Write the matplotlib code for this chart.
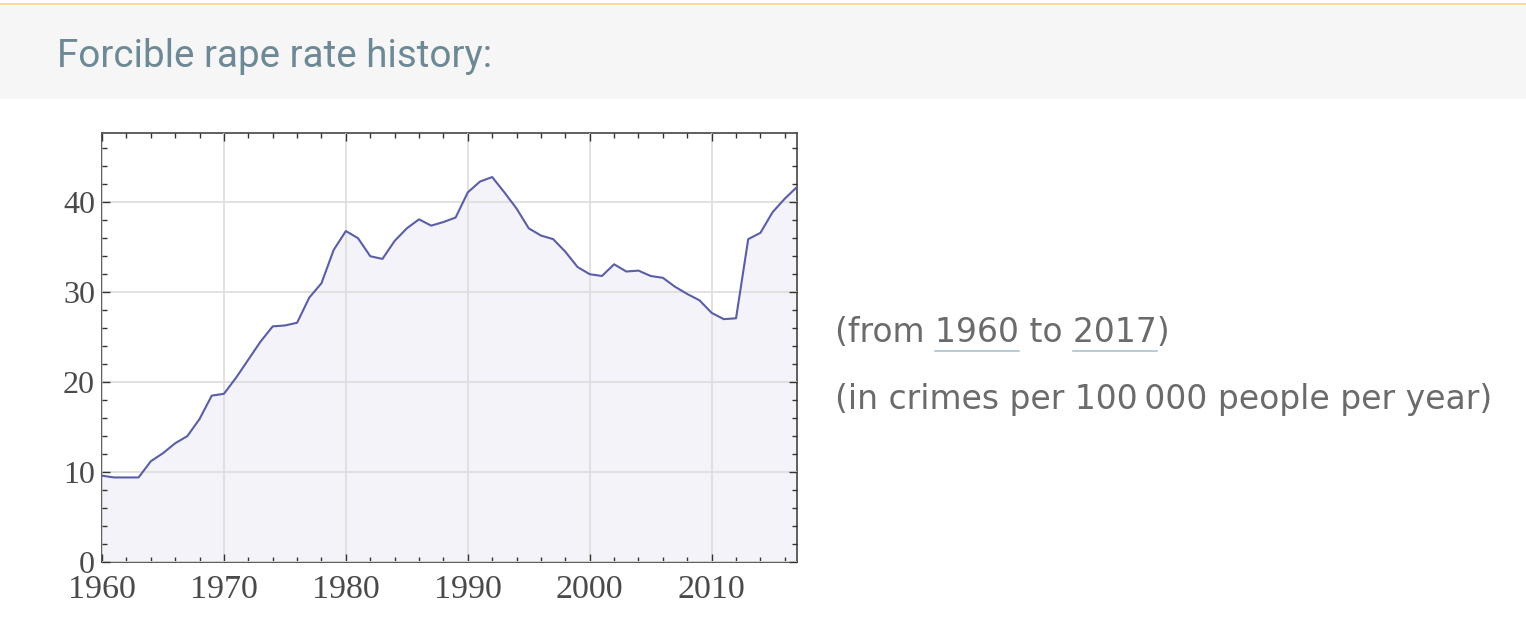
import matplotlib
matplotlib.use("Agg")
import matplotlib.pyplot as plt
from matplotlib.patches import Rectangle
from matplotlib.lines import Line2D
from matplotlib.ticker import MultipleLocator

# dati: tasso di stupri (crimini per 100 000 persone per anno)
years = list(range(1960, 2018))
rate = [9.6, 9.4, 9.4, 9.4, 11.2, 12.1, 13.2, 14.0, 15.9, 18.5,
        18.7, 20.5, 22.5, 24.5, 26.2, 26.3, 26.6, 29.4, 31.0, 34.7,
        36.8, 36.0, 34.0, 33.7, 35.7, 37.1, 38.1, 37.4, 37.8, 38.3,
        41.1, 42.3, 42.8, 41.1, 39.3, 37.1, 36.3, 35.9, 34.5, 32.8,
        32.0, 31.8, 33.1, 32.3, 32.4, 31.8, 31.6, 30.6, 29.8, 29.1,
        27.7, 27.0, 27.1, 35.9, 36.6, 38.9, 40.4, 41.7]

title = "Forcible rape rate history:"
year_from = "1960"
year_to = "2017"
unit_text = "(in crimes per 100\u2009000 people per year)"

W, H = 1526, 624
fig = plt.figure(figsize=(W / 100, H / 100), dpi=100)
fig.patch.set_facecolor("white")

# fascia grigia del titolo + linea arancione in alto
fig.patches.append(Rectangle((0, 1 - 99 / H), 1, 93 / H, transform=fig.transFigure,
                             facecolor="#f6f6f6", edgecolor="none", zorder=0))
fig.lines.append(Line2D([0, 1], [1 - 3.5 / H, 1 - 3.5 / H], transform=fig.transFigure,
                        color="#fcd89e", linewidth=1.5))
fig.text(57 / W, 1 - 67 / H, title, fontsize=27.8, family="Roboto", color="#6d8995",
         va="baseline", ha="left")

# grafico
ax = fig.add_axes([102 / W, 1 - 562 / H, 695 / W, 429 / H])
ax.fill_between(years, rate, 0, color="#f3f3f9", zorder=1)
ax.plot(years, rate, color="#5a5ea6", linewidth=1.5, zorder=3)
ax.set_xlim(1960, 2017)
ax.set_ylim(0, 47.7)
ax.xaxis.set_major_locator(MultipleLocator(10))
ax.xaxis.set_minor_locator(MultipleLocator(2))
ax.yaxis.set_major_locator(MultipleLocator(10))
ax.yaxis.set_minor_locator(MultipleLocator(2))
ax.grid(True, which="major", color="#dedede", linewidth=1.3, zorder=2)
ax.set_axisbelow(False)
ax.tick_params(which="both", direction="in", top=True, right=True, color="#333333",
               width=1.0, labelcolor="#4a4a4a")
ax.tick_params(which="major", length=6)
ax.tick_params(which="minor", length=3.5)
ax.tick_params(axis="x", pad=9, labelsize=24.5)
ax.tick_params(axis="y", pad=5, labelsize=23)
for lab in ax.get_xticklabels() + ax.get_yticklabels():
    lab.set_family("Liberation Serif")
for sp in ax.spines.values():
    sp.set_color("#444444")
    sp.set_linewidth(1.2)

# testo a destra
tx = 835 / W
fs = 23.8
col = "#6b6b6b"
line1 = "(from " + year_from + " to " + year_to + ")"
t1 = fig.text(tx, 1 - 342 / H, line1, fontsize=fs, family="DejaVu Sans", color=col,
              va="baseline", ha="left")
fig.text(tx, 1 - 409 / H, unit_text, fontsize=fs, family="DejaVu Sans", color=col,
         va="baseline", ha="left")

renderer = fig.canvas.get_renderer()

def largh(s):
    t = fig.text(0, 0, s, fontsize=fs, family="DejaVu Sans")
    w = t.get_window_extent(renderer).width
    t.remove()
    return w

x0 = tx * W
for pref, word in [("(from 1960", year_from), ("(from 1960 to 2017", year_to)]:
    fine = x0 + largh(pref)
    inizio = fine - largh(word)
    yy = 1 - 351 / H
    fig.lines.append(Line2D([inizio / W, fine / W], [yy, yy], transform=fig.transFigure,
                            color="#a9c3cf", linewidth=1.2))

fig.savefig("out.png", dpi=100)
